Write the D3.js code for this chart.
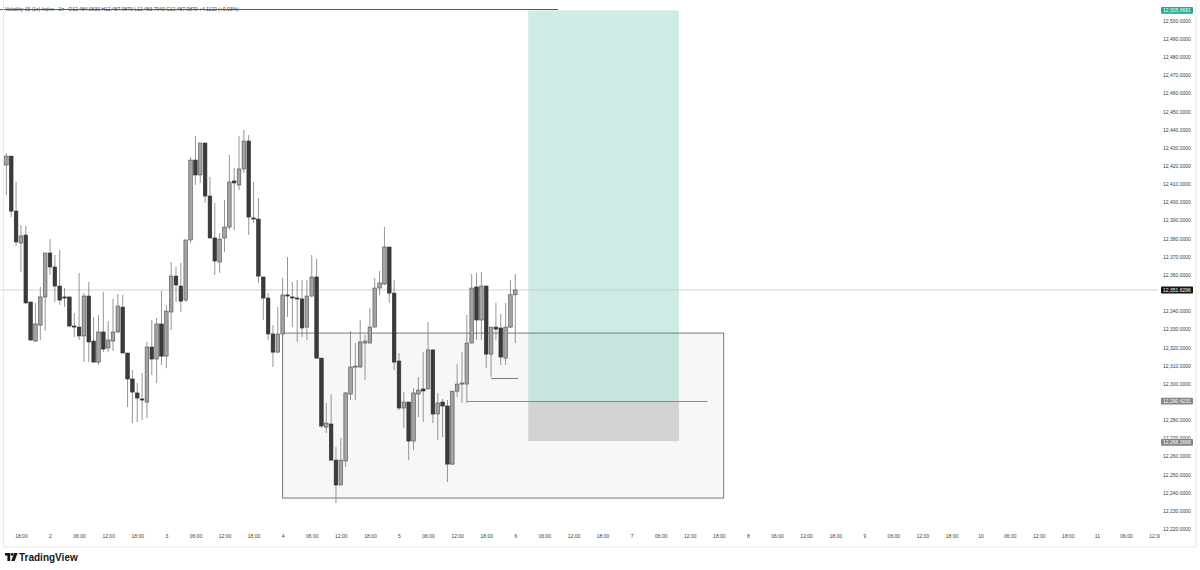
<!DOCTYPE html>
<html>
<head>
<meta charset="utf-8">
<script src="https://cdn.jsdelivr.net/npm/d3@7"></script>
<style>
  body { margin: 0; background: #fff; }
  svg { display: block; font-family: "Liberation Sans", Arial, sans-serif; }
</style>
</head>
<body>
<svg width="1200" height="570"></svg>
<script>
// hourly candles, first one opens 1st 15:00
const startTime = "2025-02-01T15:00:00Z";
const opens = [12420.5,12425.4,12395.1,12377.5,12381.9,12345.0,12323.5,12332.3,12347.8,12372.0,
  12364.3,12353.8,12347.8,12347.8,12331.8,12331.2,12326.3,12348.3,12323.5,12311.9,
  12328.5,12319.7,12323.5,12328.5,12342.2,12316.9,12302.6,12294.9,12291.6,12289.9,
  12320.2,12313.6,12332.9,12315.2,12339.5,12359.3,12353.8,12346.1,12379.2,12423.2,
  12415.0,12432.6,12403.4,12380.3,12367.0,12380.3,12386.3,12411.7,12409.5,12418.3,
  12433.7,12391.3,12390.7,12358.8,12347.2,12327.4,12317.4,12327.4,12348.9,12347.8,
  12347.2,12346.7,12331.2,12348.3,12358.8,12314.1,12276.1,12277.8,12257.9,12244.2,
  12257.4,12294.3,12309.2,12309.2,12322.4,12322.4,12331.2,12352.7,12354.9,12375.3,
  12349.9,12312.5,12286.6,12289.9,12268.4,12294.3,12297.1,12297.1,12318.6,12283.3,
  12289.9,12287.7,12255.7,12295.9,12299.8,12299.8,12322.4,12353.3,12335.1,12353.8,
  12316.3,12331.2,12330.7,12314.1,12331.2,12349.0];
const highs = [12427.1,12425.4,12411.1,12387.4,12386.9,12345.0,12344.5,12353.3,12372.0,12379.7,
  12370.9,12373.7,12352.7,12347.8,12338.9,12361.0,12349.9,12356.0,12336.7,12337.8,
  12350.5,12334.5,12346.7,12349.4,12348.9,12316.9,12307.5,12300.4,12305.9,12323.0,
  12335.1,12336.2,12351.1,12343.4,12367.0,12364.3,12366.5,12379.2,12424.9,12436.5,
  12432.6,12432.6,12413.9,12399.5,12383.0,12401.2,12426.0,12418.8,12436.5,12439.8,
  12437.0,12411.1,12402.3,12358.8,12349.9,12332.3,12342.2,12358.2,12369.8,12356.0,
  12357.1,12357.1,12357.1,12370.9,12368.7,12314.1,12289.4,12294.3,12265.1,12270.1,
  12295.4,12329.0,12322.4,12335.1,12326.8,12341.7,12358.2,12362.1,12386.3,12375.3,
  12357.1,12316.9,12295.4,12289.9,12297.6,12303.7,12317.4,12334.0,12318.6,12294.9,
  12291.6,12291.0,12295.9,12310.8,12317.4,12337.8,12360.4,12361.0,12361.5,12353.8,
  12331.2,12344.5,12338.4,12344.5,12357.1,12360.4];
const lows = [12403.9,12391.8,12375.9,12361.5,12344.0,12323.5,12323.0,12324.1,12329.0,12359.9,
  12345.0,12343.4,12342.2,12331.2,12325.7,12324.1,12311.9,12311.9,12311.9,12310.3,
  12317.4,12317.4,12318.0,12327.9,12316.9,12287.1,12278.3,12278.9,12280.0,12281.1,
  12304.8,12300.4,12310.3,12308.6,12329.6,12345.0,12339.5,12345.0,12377.5,12409.5,
  12410.6,12399.5,12380.3,12359.9,12361.0,12372.5,12384.7,12384.7,12406.7,12416.1,
  12381.9,12388.5,12355.5,12335.1,12324.1,12309.2,12316.9,12326.8,12336.7,12331.2,
  12323.0,12325.7,12324.1,12347.8,12314.1,12275.6,12272.8,12257.9,12234.3,12244.2,
  12254.1,12291.0,12291.0,12308.6,12302.0,12322.4,12331.2,12348.9,12354.4,12344.5,
  12307.5,12285.5,12275.6,12257.9,12263.4,12281.6,12278.9,12297.1,12278.3,12269.0,
  12270.6,12245.8,12255.2,12292.7,12289.4,12289.4,12322.4,12324.1,12324.1,12308.6,
  12303.7,12324.1,12310.3,12310.3,12330.7,12322.4];
const closes = [12425.4,12395.1,12378.1,12381.4,12344.5,12324.1,12332.9,12347.8,12372.0,12364.3,
  12353.8,12346.1,12347.2,12331.8,12331.2,12326.3,12348.3,12323.0,12311.9,12328.5,
  12319.1,12324.1,12328.5,12342.8,12316.9,12302.6,12295.4,12292.1,12291.0,12320.2,
  12313.6,12332.9,12315.2,12340.0,12359.3,12354.4,12345.5,12379.2,12423.2,12415.0,
  12432.6,12403.4,12380.3,12367.6,12379.7,12386.3,12411.1,12410.6,12418.3,12433.7,
  12391.8,12390.7,12359.3,12347.2,12327.4,12317.4,12327.4,12348.9,12348.3,12347.2,
  12346.7,12330.7,12348.3,12358.8,12314.1,12276.7,12278.3,12257.9,12244.2,12257.9,
  12294.9,12309.2,12309.7,12323.0,12323.5,12331.2,12352.7,12355.5,12375.3,12349.9,
  12311.9,12286.6,12289.9,12268.4,12294.9,12296.5,12296.0,12318.6,12283.3,12289.4,
  12287.7,12255.7,12295.9,12299.8,12300.4,12322.4,12352.7,12335.1,12353.8,12316.3,
  12331.2,12330.1,12314.7,12331.2,12349.0,12351.6296];

const lastPrice = 12351.6296;
const targetPrice = 12505.6681;
const entryPrice = 12290.4231;
const stopPrice = 12268.3668;

// drawings
const zoneTimes = ["2025-02-04T00:00:00Z", "2025-02-07T19:00:00Z"];
const zonePrices = [12327.9, 12237.0];
const positionTimes = ["2025-02-06T02:40:00Z", "2025-02-07T09:45:00Z"];
const entryLineTimes = ["2025-02-05T14:00:00Z", "2025-02-07T15:40:00Z"];
const lowLineTimes = ["2025-02-05T19:00:00Z", "2025-02-06T00:35:00Z"];
const lowLinePrice = 12303.4;
const topLineTimes = ["2025-02-01T13:00:00Z", "2025-02-06T08:50:00Z"];
const topLinePrice = 12506.3;

// ticks hidden behind the last-price and entry labels are left out
const priceTicks = [12220,12230,12240,12250,12260,12270,12280,12300,12310,12320,12330,12340,
  12360,12370,12380,12390,12400,12410,12420,12430,12440,12450,12460,12470,12480,12490,12500];
const title = "Volatility 15 (1s) Index · 1h · O12,484.0630 H12,487.9870 L12,483.7940 C12,487.9870 +4.1122 (+0.03%)";

const svg = d3.select("svg"),
    paneW = 1158,
    paneH = 530;

const parse = d3.isoParse;
const t0 = parse(startTime);
const candles = opens.map((o, i) => ({
  t: d3.utcHour.offset(t0, i), o: o, h: highs[i], l: lows[i], c: closes[i]
}));

const x = d3.scaleUtc()
    .domain([parse("2025-02-01T13:41:00Z"), parse("2025-02-11T12:36:00Z")])
    .range([0, paneW]);

const y = d3.scaleLinear()
    .domain([12219.4, 12511.4])
    .range([paneH, 0]);

const defs = svg.append("defs");
defs.append("clipPath").attr("id", "pane")
  .append("rect").attr("x", 0).attr("y", 0).attr("width", paneW).attr("height", paneH);
defs.append("clipPath").attr("id", "taxis")
  .append("rect").attr("x", 0).attr("y", paneH).attr("width", 1160).attr("height", 16);

const pane = svg.append("g").attr("clip-path", "url(#pane)");

// zone box
pane.append("rect")
    .attr("x", x(parse(zoneTimes[0])))
    .attr("y", y(zonePrices[0]))
    .attr("width", x(parse(zoneTimes[1])) - x(parse(zoneTimes[0])))
    .attr("height", y(zonePrices[1]) - y(zonePrices[0]))
    .attr("fill", "#f7f7f7")
    .attr("stroke", "#6b6b6b")
    .attr("stroke-width", 0.9);

// long position tool
const px0 = x(parse(positionTimes[0])), px1 = x(parse(positionTimes[1]));
pane.append("rect")
    .attr("x", px0).attr("y", y(targetPrice))
    .attr("width", px1 - px0).attr("height", y(entryPrice) - y(targetPrice))
    .attr("fill", "rgba(8,153,129,0.2)");
pane.append("rect")
    .attr("x", px0).attr("y", y(entryPrice))
    .attr("width", px1 - px0).attr("height", y(stopPrice) - y(entryPrice))
    .attr("fill", "#d3d3d3");

// horizontal drawings
function hline(times, price, color) {
  pane.append("line")
      .attr("x1", x(parse(times[0]))).attr("x2", x(parse(times[1])))
      .attr("y1", Math.round(y(price)) + 0.5).attr("y2", Math.round(y(price)) + 0.5)
      .attr("stroke", color).attr("stroke-width", 1);
}
hline(entryLineTimes, entryPrice, "#8c8c8c");
hline(lowLineTimes, lowLinePrice, "#7a7a7a");
hline(topLineTimes, topLinePrice, "#5a5a5a");

// last price line
pane.append("line")
    .attr("x1", 0).attr("x2", paneW)
    .attr("y1", y(lastPrice)).attr("y2", y(lastPrice))
    .attr("stroke", "#c4c4c4").attr("stroke-width", 0.8);

// candles
const bw = 3.6;
const cg = pane.append("g").selectAll("g")
  .data(candles)
  .enter().append("g");

cg.append("line")
    .attr("x1", d => x(d.t)).attr("x2", d => x(d.t))
    .attr("y1", d => y(d.h)).attr("y2", d => y(d.l))
    .attr("stroke", "#7a7a7a").attr("stroke-width", 0.8);

cg.append("rect")
    .attr("x", d => x(d.t) - bw / 2)
    .attr("y", d => y(Math.max(d.o, d.c)))
    .attr("width", bw)
    .attr("height", d => Math.max(1, Math.abs(y(d.o) - y(d.c))))
    .attr("fill", d => d.c >= d.o ? "#a3a3a3" : "#3b3b3b")
    .attr("stroke", d => d.c >= d.o ? "#4f4f4f" : "#2b2b2b")
    .attr("stroke-width", 0.6);

// title
svg.append("text")
    .attr("x", 5).attr("y", 11)
    .attr("font-size", 5)
    .attr("fill", "#444")
    .text(title);

// price axis
const yAxis = svg.append("g")
    .attr("transform", `translate(${paneW},0)`)
    .call(d3.axisRight(y).tickValues(priceTicks).tickFormat(d3.format(",.4f")).tickSize(0).tickPadding(5));
yAxis.select(".domain").remove();
yAxis.selectAll("text").attr("font-size", 5).attr("fill", "#3a3a3a").attr("font-family", "Liberation Sans, Arial, sans-serif");

// price labels
function priceLabel(price, bg, dy) {
  const g = svg.append("g").attr("transform", `translate(1161,${y(price) + dy})`);
  g.append("rect").attr("x", 0).attr("y", -3.4).attr("width", 32).attr("height", 6.8).attr("rx", 0.8).attr("fill", bg);
  g.append("text").attr("x", 16).attr("y", 1.8).attr("text-anchor", "middle")
      .attr("font-size", 5).attr("fill", "#fff").text(d3.format(",.4f")(price));
}
priceLabel(targetPrice, "#22a98f", 0);
priceLabel(lastPrice, "#131313", 0);
priceLabel(entryPrice, "#858585", 0);
priceLabel(stopPrice, "#858585", 1.2);

// time axis
const xAxisScale = x.copy().domain([x.invert(0), x.invert(1160)]).range([0, 1160]);
const xAxis = svg.append("g")
    .attr("clip-path", "url(#taxis)")
  .append("g")
    .attr("transform", `translate(0,${paneH})`)
    .call(d3.axisBottom(xAxisScale)
      .ticks(d3.utcHour.every(6))
      .tickFormat(d => d.getUTCHours() === 0 ? d3.utcFormat("%-d")(d) : d3.utcFormat("%H:%M")(d))
      .tickSize(0).tickPadding(4));
xAxis.select(".domain").remove();
xAxis.selectAll("text").attr("font-size", 5).attr("fill", "#3a3a3a").attr("font-family", "Liberation Sans, Arial, sans-serif");

// frame
svg.append("rect")
    .attr("x", 3.5).attr("y", -1).attr("width", 1192.5).attr("height", 548)
    .attr("fill", "none").attr("stroke", "#e9e9e9").attr("stroke-width", 1);

// TradingView mark
const logo = svg.append("g").attr("transform", "translate(5,553)").attr("fill", "#131722");
logo.append("rect").attr("x", 0).attr("y", 0).attr("width", 5.2).attr("height", 2.6);
logo.append("rect").attr("x", 2.4).attr("y", 0).attr("width", 2.8).attr("height", 8);
logo.append("circle").attr("cx", 7.2).attr("cy", 1.4).attr("r", 1.4);
logo.append("path").attr("d", "M9.2,0 L12.6,0 L9.6,8 L6.2,8 Z");
svg.append("text")
    .attr("x", 19).attr("y", 561)
    .attr("font-size", 10).attr("font-weight", 600)
    .attr("fill", "#131722")
    .text("TradingView");
</script>
</body>
</html>
